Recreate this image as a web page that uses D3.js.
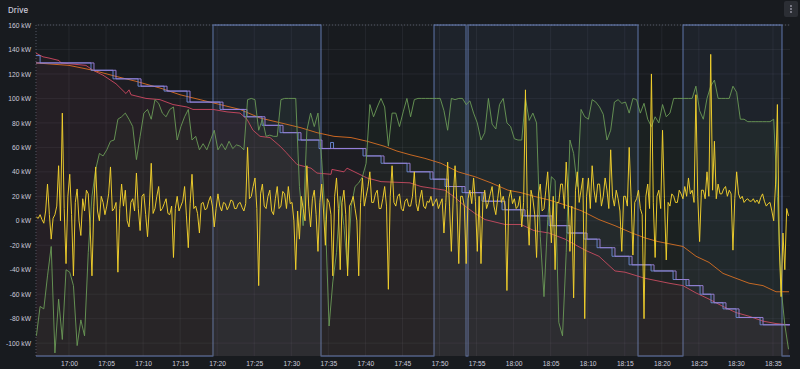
<!DOCTYPE html>
<meta charset="utf-8">
<html>
<style>
body { margin: 0; background: #181b1f; }
svg { display: block; font-family: Inter, "Noto Sans", sans-serif; }
.axis text { fill: #ccccdc; font-size: 6.7px; }
.axis path, .axis line { display: none; }
.grid line { stroke: #ccccdc; stroke-opacity: 0.07; }
</style>
<svg width="800" height="369"></svg>
<script src="https://d3js.org/d3.v7.min.js"></script>
<script>
// all times are minutes after 17:00
var yTicks = [-100, -80, -60, -40, -20, 0, 20, 40, 60, 80, 100, 120, 140, 160];

// yellow: power, sampled every 0.25 min
var yellowStart = -4.4, yellowStep = 0.25;
var yellowKW = [3, 2, 5, 1, -2, 8, 30, 5, -15, 2,
  5, 12, 45, 0, 88, 10, -35, 20, 38, 5,
  -45, 15, 26, 0, -12, 18, 8, 25, 22, -5,
  -45, 12, 44, 8, 0, 20, 15, 5, 12, 22,
  44, 8, 10, 15, -42, 10, 30, 12, 25, 0,
  -5, 15, 18, 8, 39, 10, -8, 20, 22, 5,
  -13, 12, 47, 6, 10, 20, 28, 8, 10, 14,
  18, 6, 5, 12, -30, 10, 20, 8, 12, 16,
  28, 4, -22, 14, 38, 10, 12, 6, -10, 14,
  15, 9, 10, 16, 20, 12, -5, 10, 22, 12,
  8, 15, 14, 9, 12, 17, 16, 10, 10, 14,
  15, 11, 8, 14, 60, 18, 20, 28, 35, 10,
  -53, 22, 30, 12, 10, 20, 25, 8, 5, 18,
  28, 10, 12, 24, 22, 10, 28, 14, 15, 0,
  -40, 8, -15, 20, 10, 0, 45, 12, -5, 18,
  25, 5, -25, 15, 30, 8, -20, 18, 15, 5,
  -45, 20, 35, 10, -40, 15, 25, 5, -45, 12,
  15, 20, 10, 0, -45, 15, 35, 12, 20, 28,
  40, 15, 15, 22, 25, 10, 10, 18, 28, 12,
  -56, 20, 45, 15, 12, 20, 22, 10, 8, 16,
  18, 12, 12, 20, 40, 14, 8, 18, 25, 12,
  10, 16, 15, 20, 12, 15, 18, 10, 14, 18,
  -10, 15, 48, 12, -25, 18, 45, 14, -35, 20,
  20, 12, -35, 18, 25, 14, 35, 16, -25, 20,
  -35, 15, 25, 10, 15, 22, 28, 12, 5, 18,
  30, 15, 20, 12, -57, 18, 25, 14, 18, 10,
  12, 20, -5, 15, 107, 10, -20, 25, 18, 5,
  -30, 22, 30, 8, 10, 25, 40, 12, -18, 20,
  -40, 15, 15, 30, 30, 10, 48, 20, -25, 12,
  -63, 25, 40, 15, 25, 35, -80, 20, 35, 10,
  45, 25, 15, 30, 30, 12, 20, 35, 25, 10,
  58, 20, 12, 25, 18, 8, -25, 20, 20, 12,
  60, 20, -28, 15, 18, 25, 10, 5, -80, 20,
  30, 10, 120, 15, -30, 20, 25, 10, 74, 18,
  -32, 15, 12, 22, 20, 15, 15, 25, 22, 18,
  28, 20, 35, 22, 25, 15, 103, 20, -17, 25,
  25, 18, 40, 20, 136, 25, 65, 18, 30, 22,
  22, 26, 28, 20, 25, 22, -24, 18, 40, 22,
  18, 20, 15, 17, 18, 16, 16, 18, 15, 17,
  14, 19, 22, 16, 12, 14, 15, 8, 0, 30,
  95, -20, -62, -10, -40, 10, 4];

// green: sampled every 0.5 min
var greenStart = -4.4, greenStep = 0.5;
var greenKW = [-94, -70, -72, -45, -21, -108, -64, -97, -40, -42,
  -53, -102, -81, -94, -26, 20, 42, 55, 53, 58,
  65, 66, 83, 85, 88, 83, 77, 50, 69, 88,
  91, 83, 99, 96, 88, 85, 91, 93, 66, 77,
  85, 91, 66, 69, 58, 63, 58, 66, 74, 58,
  63, 58, 65, 59, 62, 61, 58, 99, 100, 99,
  74, 83, 69, 70, 69, 69, 99, 100, 100, 100,
  100, 28, -4, 74, 88, 77, 88, 50, 1, -86,
  -50, -26, 20, -4, -40, 12, 28, 31, 36, 47,
  95, 85, 93, 100, 93, 61, 88, 88, 77, 89,
  100, 85, 99, 100, 100, 100, 100, 100, 100, 100,
  90, 74, 100, 99, 100, 100, 95, 98, 88, 80,
  66, 72, 100, 79, 75, 95, 100, 80, 77, 67,
  66, 66, 100, 82, 88, 80, -13, -62, 1, 36,
  33, -83, -94, -26, 66, 55, 28, 91, 85, 83,
  99, 97, 93, 87, 66, 74, 97, 99, 96, 97,
  88, 100, 99, 88, 96, 83, 77, 85, 80, 95,
  85, 88, 100, 100, 100, 100, 100, 100, 110, 90,
  83, 100, 110, 115, 100, 100, 100, 100, 110, 105,
  83, 83, 81, 81, 81, 81, 81, 81, 81, 83,
  20, -55, -85, -105];

var redMin = [-4.45, -3.51, -2.70, -1.35, -1.08, 2.29, 3.24, 4.59, 6.34, 7.69, 8.10, 8.37, 9.04, 10.39, 12.28,
  14.04, 15.92, 16.73, 19.43, 21.32, 23.08, 24.02, 24.83, 25.78, 27.13, 28.48, 29.28, 30.77, 32.66, 33.47,
  35.36, 35.49, 37.11, 37.52, 38.87, 40.22, 42.11, 46.02, 47.50, 50.74, 52.09, 53.44, 54.79, 56.14, 58.84,
  61.00, 62.75, 64.78, 66.94, 69.64, 71.52, 73.68, 75.03, 77.73, 80.97, 82.86, 84.62, 86.37, 88.26, 90.01,
  91.77, 93.66, 95.41, 97.17];
var redKW = [137, 134, 133, 131, 129, 127, 123, 119, 112, 104, 107, 103, 102, 100, 99,
  95, 93, 91, 91, 89, 88, 83, 74, 69, 68, 61, 56, 46, 43, 39,
  38, 42, 40, 43, 39, 35, 32, 31, 28, 25, 19, 12, 6, 1, -3,
  -3, -8, -10, -15, -24, -29, -41, -42, -47, -51, -53, -59, -64, -70, -75,
  -78, -82, -84, -85];

var orangeMin = [-4.45, 0, 3.24, 6.34, 9.04, 12.55, 14.98, 17.68, 20.38, 23.08, 25.78, 29.28, 31.31, 33.47, 35.76,
  38.06, 40.22, 42.51, 44.26, 46.02, 48.04, 50.20, 52.50, 54.79, 56.95, 59.24, 61.00, 62.75, 64.78, 66.94,
  69.23, 71.52, 73.68, 75.98, 77.73, 79.49, 82.86, 84.62, 86.37, 88.26, 90.01, 91.77, 93.66, 95.41, 97.17];
var orangeKW = [129, 127, 123, 118, 114, 108, 103, 99, 95, 91, 84, 79, 76, 72, 69,
  68, 65, 61, 57, 54, 51, 47, 40, 36, 31, 25, 23, 20, 17, 13,
  8, 1, -4, -10, -14, -17, -21, -29, -34, -43, -47, -51, -53, -58, -58];

var purpleMin = [-4.45, 3.37, 6.34, 9.72, 13.23, 16.33, 20.78, 24.02, 26.45, 28.88, 31.31, 34.14, 40.08, 42.51, 46.02,
  49.12, 51.15, 53.44, 56.14, 58.84, 61.54, 65.18, 67.61, 69.91, 71.66, 73.68, 75.98, 78.95, 81.92, 83.67,
  85.56, 87.04, 88.66, 90.42, 93.66, 97.3];
var purpleKW = [129, 123, 116, 110, 106, 97, 91, 85, 78, 72, 66, 59, 53, 47, 40,
  34, 28, 23, 16, 9, 4, -4, -10, -15, -22, -29, -36, -41, -48, -53,
  -60, -67, -72, -79, -85, -85];

var blueMin = [-4.45, -3.9, 2.97, 5.94, 9.32, 12.83, 15.93, 20.38, 23.62, 26.05, 28.48, 30.91, 33.74, 35.3, 35.7,
  39.68, 42.11, 45.62, 48.72, 50.75, 53.04, 55.74, 58.44, 61.14, 64.78, 67.21, 69.51, 71.26, 73.28, 75.58,
  78.55, 81.52, 83.27, 85.16, 86.64, 88.26, 90.02, 93.26, 97.3];
var blueKW = [135, 129, 123, 116, 110, 106, 97, 91, 85, 78, 72, 66, 59, 64, 59,
  53, 47, 40, 34, 28, 23, 16, 9, 4, -4, -10, -15, -22, -29, -36,
  -41, -48, -53, -60, -67, -72, -79, -85, -85];

// on/off state, step series
var stateMin = [-4.45, 19.43, 34.01, 49.26, 53.58, 53.85, 76.79, 82.86, 96.22, 97.3];
var stateOn  = [0, 1, 0, 1, 0, 1, 0, 1, 0, 0];

var svg = d3.select("svg");
var base = new Date(2024, 0, 1, 17, 0, 0);
function tm(m) { return new Date(base.getTime() + m * 60000); }

var x = d3.scaleTime().domain([tm(-4.453), tm(97.3)]).range([36, 790]);
var y = d3.scaleLinear().domain([-110.5, 160]).range([356, 25]);
var bottom = y.range()[0];

function pts(ms, vs) { return ms.map(function(m, i) { return {t: tm(m), v: vs[i]}; }); }
function grid(start, step, vs) { return vs.map(function(v, i) { return {t: tm(start + i * step), v: v}; }); }

// title
svg.append("text").attr("x", 8).attr("y", 13).text("Drive")
  .attr("fill", "#ccccdc").attr("font-size", 8).attr("font-weight", 500);

// menu button
svg.append("rect").attr("x", 784).attr("y", 1).attr("width", 14).attr("height", 16).attr("rx", 2)
  .attr("fill", "#2b2e34");
[6, 9, 12].forEach(function(cy) {
  svg.append("circle").attr("cx", 791).attr("cy", cy).attr("r", 0.9).attr("fill", "#9a9aa8");
});

// grid
var xt = x.ticks(d3.timeMinute.every(5));
var g = svg.append("g").attr("class", "grid");
g.selectAll(".h").data(yTicks).enter().append("line")
  .attr("x1", 36).attr("x2", 790).attr("y1", function(d) { return y(d); }).attr("y2", function(d) { return y(d); });
g.selectAll(".v").data(xt).enter().append("line")
  .attr("y1", 25).attr("y2", bottom).attr("x1", function(d) { return x(d); }).attr("x2", function(d) { return x(d); });
svg.append("path").attr("d", "M36," + bottom + "V25H790")
  .attr("fill", "none").attr("stroke", "#8a90a8").attr("stroke-opacity", 0.5).attr("stroke-dasharray", "1,2");

// axes
svg.append("g").attr("class", "axis").attr("transform", "translate(36,0)")
  .call(d3.axisLeft(y).tickValues(yTicks).tickSize(0).tickPadding(5).tickFormat(function(d) { return d + " kW"; }));
svg.append("g").attr("class", "axis").attr("transform", "translate(0," + (bottom + 2) + ")")
  .call(d3.axisBottom(x).ticks(d3.timeMinute.every(5)).tickSize(0).tickPadding(3).tickFormat(d3.timeFormat("%H:%M")));

function drawSeries(data, color, fillOp, curve, width, op) {
  var area = d3.area().x(function(d) { return x(d.t); }).y0(bottom).y1(function(d) { return y(d.v); }).curve(curve);
  var line = d3.line().x(function(d) { return x(d.t); }).y(function(d) { return y(d.v); }).curve(curve);
  if (fillOp > 0) svg.append("path").datum(data).attr("d", area).attr("fill", color).attr("fill-opacity", fillOp);
  svg.append("path").datum(data).attr("d", line).attr("fill", "none")
    .attr("stroke", color).attr("stroke-width", width).attr("stroke-opacity", op).attr("stroke-linejoin", "round");
}

// state series as full-height steps
var stateData = stateMin.map(function(m, i) { return {t: tm(m), v: stateOn[i] ? 160 : -110.5}; });
drawSeries(stateData, "#7390d0", 0.07, d3.curveStepAfter, 1.3, 0.6);

drawSeries(pts(redMin, redKW), "#c8475f", 0.05, d3.curveLinear, 1, 0.95);
drawSeries(pts(orangeMin, orangeKW), "#d46a22", 0.02, d3.curveLinear, 1, 0.95);
drawSeries(pts(blueMin, blueKW), "#6f8fe0", 0.0, d3.curveStepAfter, 1, 0.9);
drawSeries(pts(purpleMin, purpleKW), "#9c7fdc", 0.02, d3.curveStepAfter, 1, 0.95);
drawSeries(grid(greenStart, greenStep, greenKW), "#6a9a56", 0.05, d3.curveLinear, 1, 0.9);
drawSeries(grid(yellowStart, yellowStep, yellowKW), "#f2d12c", 0.0, d3.curveLinear, 1, 0.95);
</script>
</html>
